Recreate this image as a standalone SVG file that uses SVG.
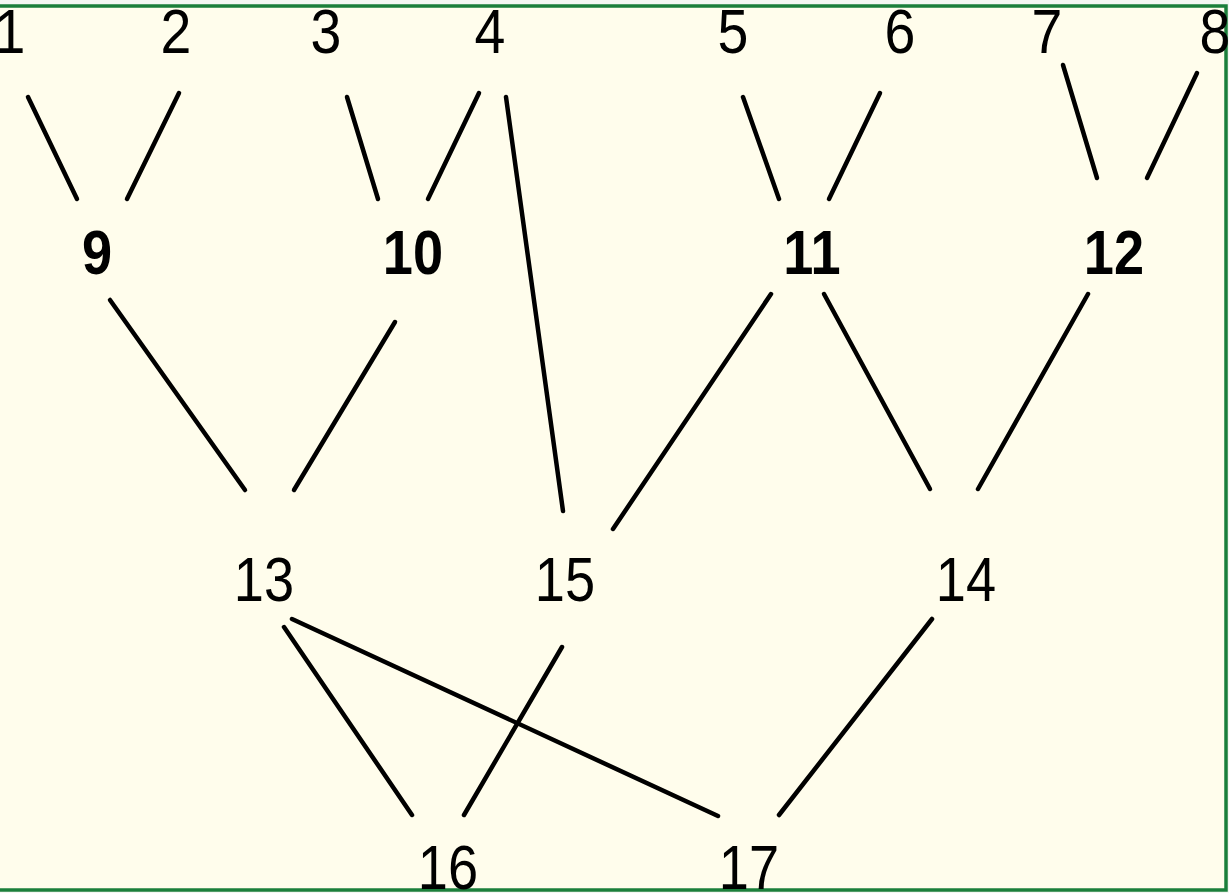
<svg xmlns="http://www.w3.org/2000/svg" width="1229" height="893" viewBox="0 0 1229 893">
<style>
.bg{fill:#FFFDEC;stroke:#1B7F3B;stroke-width:3.5}
.e{stroke:#000;stroke-width:4.5;stroke-linecap:round;fill:none}
text{font-family:"Liberation Sans",Arial,sans-serif;font-size:63px;fill:#000;text-anchor:middle}
.b{font-weight:bold}
</style>
<rect x="0" y="0" width="1229" height="893" fill="#F4F7F2"/>
<rect class="bg" x="-3" y="6" width="1229" height="884"/>
<g id="connectors">
<line class="e" x1="28" y1="97" x2="77" y2="199"/>
<line class="e" x1="179" y1="93" x2="127" y2="199"/>
<line class="e" x1="347" y1="97" x2="378" y2="199"/>
<line class="e" x1="479" y1="93" x2="428" y2="199"/>
<line class="e" x1="506" y1="97" x2="563" y2="511"/>
<line class="e" x1="743" y1="97" x2="779" y2="199"/>
<line class="e" x1="880" y1="93" x2="829" y2="199"/>
<line class="e" x1="1063" y1="65" x2="1097" y2="178"/>
<line class="e" x1="1197" y1="73" x2="1147" y2="178"/>
<line class="e" x1="110" y1="300" x2="245" y2="490"/>
<line class="e" x1="395" y1="322" x2="294" y2="490"/>
<line class="e" x1="771" y1="294" x2="613" y2="529"/>
<line class="e" x1="824" y1="294" x2="930" y2="489"/>
<line class="e" x1="1088" y1="294" x2="978" y2="489"/>
<line class="e" x1="284" y1="627" x2="412" y2="815"/>
<line class="e" x1="292" y1="619" x2="718" y2="816"/>
<line class="e" x1="562" y1="647" x2="464" y2="815"/>
<line class="e" x1="932" y1="619" x2="779" y2="815"/>
</g>
<g id="n1"><text transform="translate(10,53) scale(0.88,1)">1</text></g>
<g id="n2"><text transform="translate(176,53) scale(0.88,1)">2</text></g>
<g id="n3"><text transform="translate(326,53) scale(0.88,1)">3</text></g>
<g id="n4"><text transform="translate(490,53) scale(0.88,1)">4</text></g>
<g id="n5"><text transform="translate(733,53) scale(0.88,1)">5</text></g>
<g id="n6"><text transform="translate(900,53) scale(0.88,1)">6</text></g>
<g id="n7"><text transform="translate(1047,53) scale(0.88,1)">7</text></g>
<g id="n8"><text transform="translate(1215,53) scale(0.88,1)">8</text></g>
<g id="n9"><text class="b" transform="translate(97,274) scale(0.86,1)">9</text></g>
<g id="n10"><text class="b" transform="translate(413,274) scale(0.86,1)">10</text></g>
<g id="n11"><text class="b" transform="translate(812,274) scale(0.86,1)">11</text></g>
<g id="n12"><text class="b" transform="translate(1114,274) scale(0.86,1)">12</text></g>
<g id="n13"><text transform="translate(264,601) scale(0.86,1)">13</text></g>
<g id="n15"><text transform="translate(565,601) scale(0.86,1)">15</text></g>
<g id="n14"><text transform="translate(966,601) scale(0.86,1)">14</text></g>
<g id="n16"><text transform="translate(448,889) scale(0.86,1)">16</text></g>
<g id="n17"><text transform="translate(749,889) scale(0.86,1)">17</text></g>
</svg>
